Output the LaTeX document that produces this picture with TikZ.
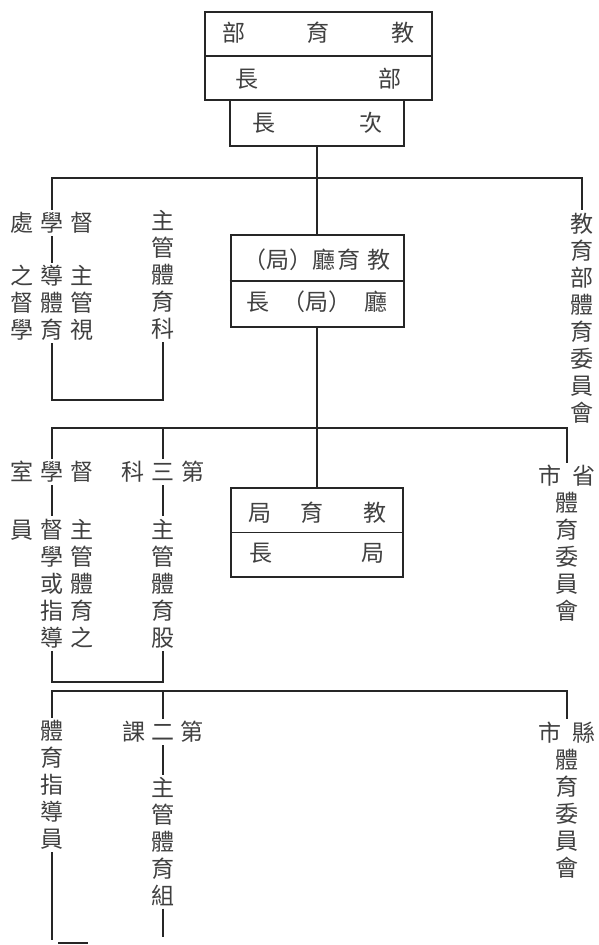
\documentclass[tikz,border=0pt]{standalone}
\usepackage{fontspec}
\newfontfamily\cjk{Noto Sans CJK TC}

\begin{document}
\begin{tikzpicture}[x=1pt,y=-1pt,
        txt/.style={font=\cjk\fontsize{23}{27}\selectfont,text=black!75,inner sep=2.5pt,align=center},
        unit/.style={txt,draw=black!85,line width=2pt},
        conn/.style={draw=black!85,line width=1.8pt}]
        \useasboundingbox (0,0) rectangle (599,945);
        \node[unit,minimum width=227pt,minimum height=88pt,font=\cjk\fontsize{23}{46}\selectfont] (jyb) at (318.5,56) {部\hspace{62pt}育\hspace{62pt}教\\長\hspace{120pt}部};
        \draw[conn] (jyb.west) -- (jyb.east);
        \node[txt,minimum width=174pt,minimum height=46pt] (cz) at (317,123) {長\hspace{84pt}次};
        \draw[conn] (cz.north west) |- (cz.south east) -- (cz.north east);
        \node[txt] (dxc) at (52,223) {處\hspace{7pt}學\hspace{7pt}督};
        \node[txt] (sd) at (52,303) {之\hspace{7pt}導\hspace{7pt}主\\督\hspace{7pt}體\hspace{7pt}管\\學\hspace{7pt}育\hspace{7pt}視};
        \node[txt] (kmc) at (163,275) {主\\管\\體\\育\\科};
        \node[unit,minimum width=173pt,minimum height=92pt,font=\cjk\fontsize{23}{42}\selectfont] (jyt) at (317,281) {（局）廳\hspace{3pt}育\hspace{7pt}教\\長\hspace{13pt}（局）\hspace{13pt}廳};
        \draw[conn] (jyt.west) -- (jyt.east);
        \node[txt] (jbw) at (582,318) {教\\育\\部\\體\\育\\委\\員\\會};
        \coordinate (bus1) at (317,178);
        \draw[conn] (dxc.north) |- (bus1) -| (jbw.north);
        \draw[conn] (cz.south) -- (jyt.north);
        \draw[conn] (dxc.south) -- (sd.north);
        \coordinate (br1) at (108,400);
        \draw[conn] (sd.south) |- (br1) -| (kmc.south);

        \node[txt] (dxs) at (52,472) {室\hspace{7pt}學\hspace{7pt}督};
        \node[txt] (dxy) at (52,583.5) {員\hspace{7pt}督\hspace{7pt}主\\\phantom{員}\hspace{7pt}學\hspace{7pt}管\\\phantom{員}\hspace{7pt}或\hspace{7pt}體\\\phantom{員}\hspace{7pt}指\hspace{7pt}育\\\phantom{員}\hspace{7pt}導\hspace{7pt}之};
        \node[txt] (dsk) at (163,472) {科\hspace{7pt}三\hspace{7pt}第};
        \node[txt] (gu) at (163,583.5) {主\\管\\體\\育\\股};
        \node[unit,minimum width=172pt,minimum height=89pt,font=\cjk\fontsize{23}{40}\selectfont] (jyj) at (317,532.5) {局\hspace{30pt}育\hspace{39pt}教\\長\hspace{89pt}局};
        \draw[conn] (jyj.west) -- (jyj.east);
        \node[txt] (ssw) at (567,543.5) {市\hspace{11pt}省\\體\\育\\委\\員\\會};
        \coordinate (bus2) at (317,428);
        \draw[conn] (dxs.north) |- (bus2) -| (ssw.north);
        \draw[conn] (jyt.south) -- (jyj.north);
        \draw[conn] (dsk.north) -- (dsk.north |- bus2);
        \draw[conn] (dxs.south) -- (dxy.north);
        \draw[conn] (dsk.south) -- (gu.north);
        \coordinate (br2) at (108,682);
        \draw[conn] (dxy.south) |- (br2) -| (gu.south);

        \node[txt] (tzy) at (52,785) {體\\育\\指\\導\\員};
        \node[txt] (dek) at (163,732) {課\hspace{6pt}二\hspace{6pt}第};
        \node[txt] (zu) at (163,841.5) {主\\管\\體\\育\\組};
        \node[txt] (xsw) at (567,800) {市\hspace{11pt}縣\\體\\育\\委\\員\\會};
        \coordinate (bus3) at (317,691);
        \draw[conn] (tzy.north) |- (bus3) -| (xsw.north);
        \draw[conn] (dek.north) -- (dek.north |- bus3);
        \draw[conn] (dek.south) -- (zu.north);
        \coordinate (end1) at (52,940);
        \coordinate (end2) at (163,937);
        \draw[conn] (tzy.south) -- (end1);
        \draw[conn] (zu.south) -- (end2);
        \coordinate (cut1) at (58,943);
        \coordinate (cut2) at (88,943);
        \draw[conn] (cut1) -- (cut2);
\end{tikzpicture}
\end{document}
